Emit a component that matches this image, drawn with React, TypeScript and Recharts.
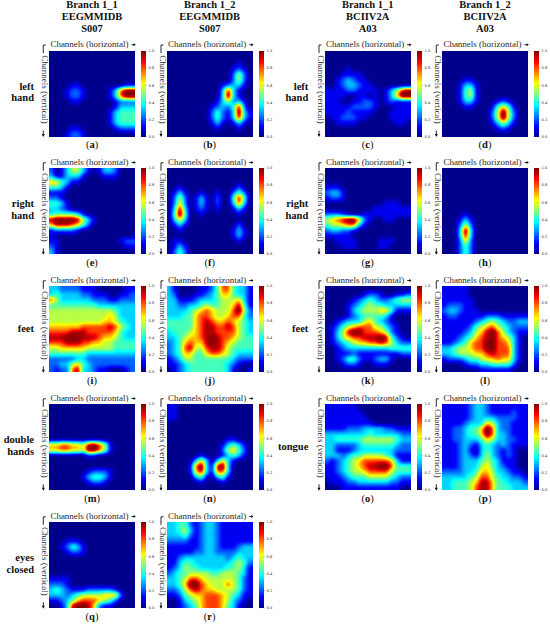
import { ScatterChart, Scatter, BarChart, Bar, XAxis, YAxis } from "recharts";

// every heatmap is a 16x16 grid, one digit per cell: 0 = 0.0 ... 9 = 1.0
const panelA = ["0000000000000000","0000000000000000","0000000000000000","0000000000000000","0000000000000000","0000000000000000","0000110000000011","0001221000013799","0001221000013799","0000110000001222","0000000000001333","0000000000013444","0000000000013444","0000000000013444","0000110000001222","0001221000000000"];
const panelB = ["0000000000000000","0000000000000000","0000000000000100","0000000000001210","0000000000002520","0000000000002520","0000000000123310","0000000000383100","0000000000393100","0000000001352310","0000000012324820","0000000024213931","0000000024213831","0000000013101310","0000000001000100","0000000000000000"];
const panelC = ["0000000000000000","0000000000000000","0000000000000000","0000100000000000","0001111000000000","0012321100000000","0012332110000000","1111221111013589","1111001101013699","1110011221012111","1111122221000111","1111211110001111","0112221100001111","0011110000000110","0000000000000000","0000000000000000"];
const panelD = ["0000000000000000","0000000000000000","0000000000000000","0000000000000000","0000000000000000","0000110000000000","0001331000000000","0001451000000000","0001451000000000","0001331000121000","0000110001464100","0000000002595200","0000000002595200","0000000001353100","0000000000121000","0000000000000000"];
const panelE = ["2013553101332000","3113331000111000","6643110000000000","4431000000000000","1110000000000000","2210000000000000","4431000000000000","3321000000000000","3444431000000000","8999985310000000","6888764200000000","1222210000000000","1000000000000000","1100000000000122","2100000000000011","3100000000000000"];
const panelF = ["0000000000000000","0000000000000000","0000000000000000","0010000000000200","0131001001002420","0252013102004840","0262013102003730","0383012101001310","0494001000000100","0363000000000000","0131000000000200","0010000000001310","0000000000001310","0110000000000100","0131000000000000","0242000000000000"];
const panelG = ["0000000000000000","0000000000000000","0000000000000000","1110000000000000","2331000000000000","1221000000000000","0000000000011100","0000000001111111","2221000111111111","5678996210011000","4556773100000000","2332210000000000","1111100000000000","0011110000111000","0001110000110000","0000000000000000"];
const panelH = ["0000000000000000","0000000000000000","0000000000000000","0000000000000000","0000000000000000","0000000000000000","0000000000000000","0000000000000000","0000100000000000","0001310000000000","0002520000000000","0003930000000000","0003830000000000","0002620000000000","0002420000000000","0002420000000000"];
const panelI = ["3322221110000011","3433332211100112","7533333322211222","4444444443333333","5555555555554333","5555555555565333","5555555555665433","6666667777787543","7777888777776433","8889998887665433","7778887766554444","5566666555554444","4444444333333333","2222233222222222","2233564322222222","2122783321100012"];
const panelJ = ["3100001124774331","3200011234664331","3311123334555631","3322334544556841","3333456765557952","3334467765567742","4444467876676543","4444467887787543","3444567887777543","3345667898776544","2346766898765444","2347855788754444","2346644677654333","1235544444443222","1123444444432100","0123444444431001"];
const panelK = ["0000000000000000","0000000122100112","0000012343223455","0000123454433333","0000134555664111","0000123444431000","0012333564321000","0124567775532100","0135899777652100","0135677888984210","0123456677875322","0012333333334444","0011121111111122","0012442112331000","0001221001110000","0000000000000000"];
const panelL = ["1111100000000000","1111100000000000","1111110000000000","1222110000000000","2332111000000000","1221111122211111","1111112345432233","1111124567543222","1111235689753211","1112346789765310","1123467799776310","3345567799777310","3345556678777310","1222344566766310","0000122334444200","0000000111111000"];
const panelM = ["0000000000000000","0000000000000000","0000000000000000","0000000000000000","0000000000000000","0000000000000000","0000000000000000","6677665897510000","6677665997510000","0000000110000000","0000000000000000","0000000000000000","0000000122210000","0000001344310000","0000000122100000","0000000000000000"];
const panelN = ["1100000000000000","1100000000000000","1100000000000000","0000000000000000","0000000000000000","0000000000000000","0000000000011000","0000000000134310","0000000000256420","0000001000134310","0000036303631000","0000179318930000","0000168317730000","0000034103410000","0000001000100000","0000000000000000"];
const panelO = ["1111110000000000","1111111000000000","1111111100000000","1111111110000000","1111222333322111","3333333343333322","3344444555555433","3322223444444322","3311123333333222","3332344555543111","2123456777776311","1123456788997444","1123455677775444","1112344455554322","0111223333332211","0001111111111100"];
const panelP = ["1111123321111111","1111123321111211","1111123333222211","1111233365322111","1122344697322111","1122344697332111","1122333465332211","1112321343232111","1112310343212100","1112321353212100","1112333454311100","1112333564321100","2222334665332110","3333345775433221","3344456886443332","3344457886444333"];
const panelQ = ["0000000000000000","0000000000000000","0000000000000000","0001110000000000","0012431000000000","0001221000000000","0000000000000000","0000000000000000","0000000000000000","0000000000000000","1111000000000000","2221000000000000","3432111222221000","3332345555666200","1123467776542000","0013899862110000"];
const panelR = ["3344212332111111","3345312332111111","3334212332111111","2222112332111111","1111112332111233","1111122332222333","1123333333323433","1134433333334542","1235443333344531","2344555544555431","3345776555555421","3346997655575421","2235787665555421","1124566777654311","0013456777653210","0012346777643100"];

const panelLetters = ["a","b","c","d","e","f","g","h","i","j","k","l","m","n","o","p","q","r"];
const panelGrids = [panelA,panelB,panelC,panelD,panelE,panelF,panelG,panelH,panelI,panelJ,panelK,panelL,panelM,panelN,panelO,panelP,panelQ,panelR];

const titleRows = [
  ["Branch 1_1", "EEGMMIDB", "S007"],
  ["Branch 1_2", "EEGMMIDB", "S007"],
  ["Branch 1_1", "BCIIV2A", "A03"],
  ["Branch 1_2", "BCIIV2A", "A03"],
];
const leftRowLabels = [["left", "hand"], ["right", "hand"], ["feet"], ["double", "hands"], ["eyes", "closed"]];
const rightRowLabels = [["left", "hand"], ["right", "hand"], ["feet"], ["tongue"]];
const colorbarTicks = [0, 0.2, 0.4, 0.6, 0.8, 1];

const COL_X = [49, 166.7, 324.7, 442];
const ROW_Y = [50.5, 168.3, 286.3, 404.3, 522.3];
const SIZE = 86;
const CELLS = 16;
const CELL = SIZE / CELLS;
const PAD = 2; // extra cells round the edge, so the blur does not fade out at the border
const SERIF = "'Liberation Serif', serif";
const INK = "#2b2b2b";

// jet colormap at eighths of the value range
const JET_R = "0 0 0 0 0.5 1 1 1 0.5";
const JET_G = "0 0 0.5 1 1 1 0.5 0 0";
const JET_B = "0.55 1 1 1 0.5 0 0 0 0";
// the blur flattens the peaks, so the top of the range is lifted a little first
const PEAK_LIFT = "0 0.125 0.25 0.375 0.5 0.625 0.78 0.95 1";
const JET_STOPS = ["#00008c", "#0000ff", "#0080ff", "#00ffff", "#80ff80", "#ffff00", "#ff8000", "#ff0000", "#800000"];

function cellPoints(grid: string[]) {
  const pts: { x: number; y: number; v: number }[] = [];
  for (let r = -PAD; r < CELLS + PAD; r++) {
    for (let c = -PAD; c < CELLS + PAD; c++) {
      const row = grid[Math.min(CELLS - 1, Math.max(0, r))];
      const d = Number(row[Math.min(CELLS - 1, Math.max(0, c))] ?? 0);
      pts.push({ x: c + 0.5, y: r + 0.5, v: d / 9 });
    }
  }
  return pts;
}

// eslint-disable-next-line @typescript-eslint/no-explicit-any
function CellShape(props: any) {
  const g = Math.round(props.payload.v * 255);
  const s = CELL + 0.6;
  return <rect x={props.cx - s / 2} y={props.cy - s / 2} width={s} height={s} fill={`rgb(${g},${g},${g})`} />;
}

function Heatmap({ grid, left, top }: { grid: string[]; left: number; top: number }) {
  const outer = SIZE + 2 * PAD * CELL;
  return (
    <div style={{ position: "absolute", left, top, width: SIZE, height: SIZE, overflow: "hidden", background: "#00008c" }}>
      <div style={{ position: "absolute", left: -PAD * CELL, top: -PAD * CELL, filter: "url(#jet)" }}>
        <ScatterChart width={outer} height={outer} margin={{ top: 0, right: 0, bottom: 0, left: 0 }}>
          <XAxis type="number" dataKey="x" domain={[-PAD, CELLS + PAD]} hide />
          <YAxis type="number" dataKey="y" domain={[-PAD, CELLS + PAD]} reversed hide />
          <Scatter data={cellPoints(grid)} shape={CellShape} isAnimationActive={false} />
        </ScatterChart>
      </div>
    </div>
  );
}

function Colorbar({ left, top }: { left: number; top: number }) {
  return (
    <div style={{ position: "absolute", left, top: top - 3 }}>
      <BarChart width={20} height={SIZE + 6} data={[{ v: 1 }]} barCategoryGap={0} margin={{ top: 3, right: 0, bottom: 3, left: 0 }}>
        <XAxis hide />
        <YAxis
          orientation="right"
          width={15.4}
          domain={[0, 1]}
          ticks={colorbarTicks}
          interval={0}
          tickFormatter={(v: number) => v.toFixed(1)}
          tick={{ fontSize: 3.6, fill: INK, fontFamily: "'DejaVu Sans', sans-serif" }}
          tickLine={{ stroke: INK, strokeWidth: 0.4 }}
          tickSize={1}
          axisLine={false}
        />
        <Bar dataKey="v" fill="url(#jetBar)" isAnimationActive={false} />
      </BarChart>
    </div>
  );
}

function PanelNotes({ left, top, letter }: { left: number; top: number; letter: string }) {
  const arrow = { stroke: "#111", strokeWidth: 0.9, fill: "none" };
  return (
    <g fontFamily={SERIF} fill={INK}>
      <text x={left + 40.5} y={top - 5.8} fontSize={9} textAnchor="middle" dominantBaseline="middle">
        Channels (horizontal)
      </text>
      <path d={`M${left + 82.5} ${top - 5.8}h3.5`} {...arrow} />
      <path d={`M${left + 84.6} ${top - 7.3}l2.2 1.5l-2.2 1.5z`} fill="#111" />
      <text
        fontSize={9}
        textAnchor="middle"
        dominantBaseline="middle"
        transform={`translate(${left - 5} ${top + 39}) rotate(90)`}
      >
        Channels (vertical)
      </text>
      <path d={`M${left - 3.2} ${top - 5.5}H${left - 5.7}V${top + 2.5}`} {...arrow} />
      <path d={`M${left - 5.7} ${top + 80}v5`} {...arrow} />
      <path d={`M${left - 7.2} ${top + 83.5}l1.5 3l1.5 -3z`} fill="#111" />
      <text x={left + 43} y={top + SIZE + 9.5} fontSize={10.5} textAnchor="middle" dominantBaseline="middle" fill="#111">
        (<tspan fontWeight="bold">{letter}</tspan>)
      </text>
    </g>
  );
}

function RowLabel({ right, top, lines }: { right: number; top: number; lines: string[] }) {
  const start = lines.length === 1 ? top + 43 : top + 36.6;
  return (
    <>
      {lines.map((line, i) => (
        <text
          key={line}
          x={right}
          y={start + i * 11.8}
          fontFamily={SERIF}
          fontSize={10.5}
          fontWeight="bold"
          textAnchor="end"
          dominantBaseline="middle"
          fill="#111"
        >
          {line}
        </text>
      ))}
    </>
  );
}

export default function App() {
  return (
    <div style={{ position: "absolute", left: 0, top: 0, width: 550, height: 626, background: "#fff", overflow: "hidden" }}>
      <svg width={0} height={0} style={{ position: "absolute" }}>
        <defs>
          <filter id="jet" x="0" y="0" width="1" height="1" colorInterpolationFilters="sRGB">
            <feGaussianBlur stdDeviation="2.2" />
            <feComponentTransfer>
              <feFuncR type="table" tableValues={PEAK_LIFT} />
              <feFuncG type="table" tableValues={PEAK_LIFT} />
              <feFuncB type="table" tableValues={PEAK_LIFT} />
            </feComponentTransfer>
            <feComponentTransfer>
              <feFuncR type="table" tableValues={JET_R} />
              <feFuncG type="table" tableValues={JET_G} />
              <feFuncB type="table" tableValues={JET_B} />
            </feComponentTransfer>
          </filter>
          <linearGradient id="jetBar" x1="0" y1="1" x2="0" y2="0">
            {JET_STOPS.map((c, i) => (
              <stop key={i} offset={`${(i / 8) * 100}%`} stopColor={c} />
            ))}
          </linearGradient>
        </defs>
      </svg>

      {panelGrids.map((grid, i) => {
        const left = COL_X[i % 4];
        const top = ROW_Y[Math.floor(i / 4)];
        return (
          <div key={panelLetters[i]}>
            <Heatmap grid={grid} left={left} top={top} />
            <Colorbar left={left + 92} top={top} />
          </div>
        );
      })}

      <svg width={550} height={626} style={{ position: "absolute", left: 0, top: 0, pointerEvents: "none" }}>
        {titleRows.map((lines, c) =>
          lines.map((line, j) => (
            <text
              key={`${c}-${j}`}
              x={COL_X[c] + 43}
              y={6 + j * 11.7}
              fontFamily={SERIF}
              fontSize={10.5}
              fontWeight="bold"
              textAnchor="middle"
              dominantBaseline="middle"
              fill="#111"
            >
              {line}
            </text>
          )),
        )}
        {panelLetters.map((letter, i) => (
          <PanelNotes key={letter} left={COL_X[i % 4]} top={ROW_Y[Math.floor(i / 4)]} letter={letter} />
        ))}
        {leftRowLabels.map((lines, r) => (
          <RowLabel key={r} right={34} top={ROW_Y[r]} lines={lines} />
        ))}
        {rightRowLabels.map((lines, r) => (
          <RowLabel key={r} right={308.3} top={ROW_Y[r]} lines={lines} />
        ))}
      </svg>
    </div>
  );
}
